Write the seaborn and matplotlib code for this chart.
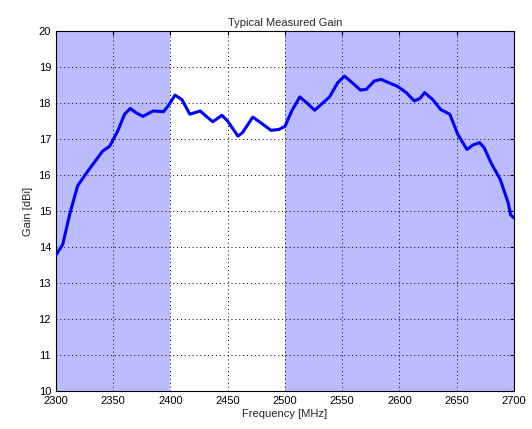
import numpy as np
import matplotlib
matplotlib.use("Agg")
import matplotlib.pyplot as plt
import seaborn as sns

# Values
freq_mhz = [2300, 2306, 2312, 2319, 2327, 2341, 2347, 2354, 2360, 2365, 2370, 2376,
            2385, 2394, 2399, 2404, 2410, 2417, 2426, 2431, 2437, 2445, 2450, 2459,
            2463, 2472, 2479, 2488, 2495, 2500, 2506, 2513, 2520, 2526, 2533, 2539,
            2546, 2552, 2559, 2566, 2571, 2578, 2584, 2591, 2598, 2606, 2613, 2618,
            2622, 2629, 2636, 2644, 2651, 2659, 2664, 2670, 2674, 2680, 2688, 2695,
            2697, 2700]
gain_dbi = [13.77, 14.07, 14.9, 15.7, 16.07, 16.67, 16.8, 17.22, 17.69, 17.85, 17.73, 17.63,
            17.78, 17.76, 17.96, 18.22, 18.1, 17.69, 17.78, 17.64, 17.48, 17.66, 17.5, 17.08,
            17.18, 17.61, 17.45, 17.24, 17.27, 17.35, 17.78, 18.17, 17.98, 17.8, 18.0, 18.17,
            18.56, 18.75, 18.56, 18.36, 18.38, 18.61, 18.66, 18.56, 18.47, 18.29, 18.06, 18.13,
            18.29, 18.1, 17.82, 17.69, 17.13, 16.71, 16.83, 16.9, 16.76, 16.34, 15.88, 15.23,
            14.9, 14.81]
shaded_bands = [(2300, 2400), (2500, 2700)]
x_ticks = list(range(2300, 2701, 50))
y_ticks = list(range(10, 21))

sns.set_style("white")
plt.rcParams["font.family"] = ["Liberation Sans", "DejaVu Sans"]

fig = plt.figure(figsize=(5.32, 4.29), dpi=100)
ax = fig.add_axes([0.105, 0.0886, 0.861, 0.839])

for lo, hi in shaded_bands:
    ax.axvspan(lo, hi, color="#bbbbff", lw=0, zorder=0)

sns.lineplot(x=freq_mhz, y=gain_dbi, ax=ax, color="#0000ff", lw=2.2, zorder=3,
             solid_joinstyle="round", solid_capstyle="round")

ax.set_xlim(2300, 2700)
ax.set_ylim(10, 20)
ax.set_xticks(x_ticks)
ax.set_yticks(y_ticks)
ax.grid(True, color="black", linestyle=(0, (1, 3)), lw=0.7, zorder=1)
ax.set_axisbelow(False)
ax.tick_params(direction="in", length=3, labelsize=8, top=True, right=True, colors="black")
for s in ax.spines.values():
    s.set_color("black")
    s.set_linewidth(0.8)

ax.set_title("Typical Measured Gain", fontsize=8, pad=4)
ax.set_xlabel("Frequency [MHz]", fontsize=8, labelpad=2)
ax.set_ylabel("Gain [dBi]", fontsize=8, labelpad=4)

fig.savefig("out.png", dpi=100)
